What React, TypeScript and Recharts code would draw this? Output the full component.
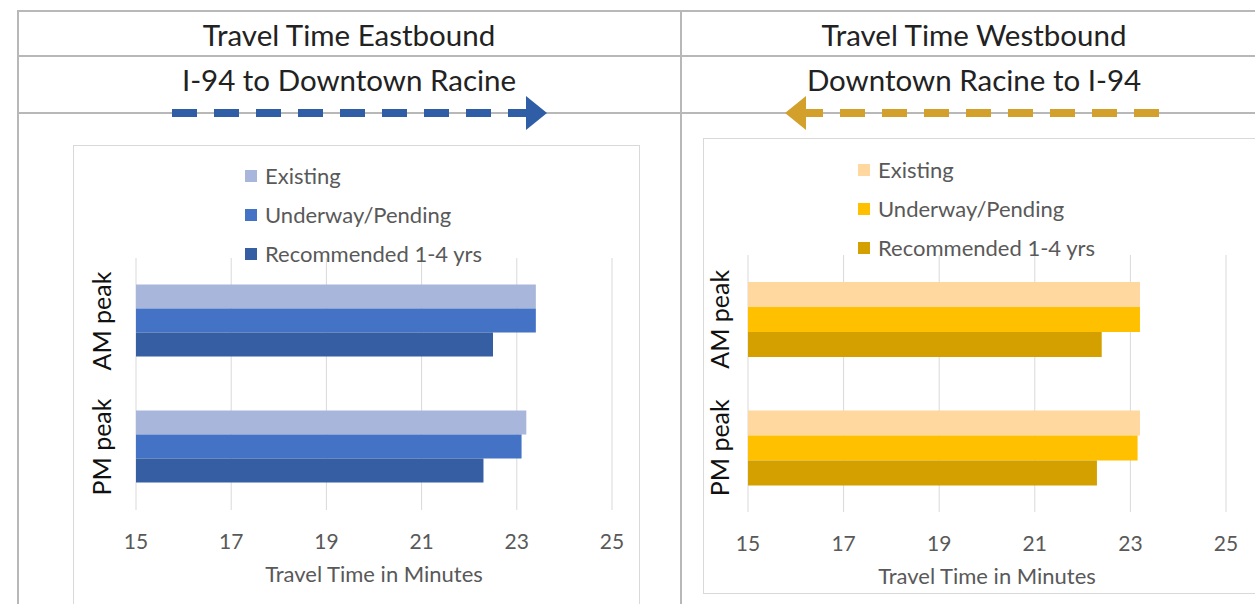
import React from "react";
import {
  BarChart,
  Bar,
  XAxis,
  YAxis,
  CartesianGrid,
  Legend,
} from "recharts";

const categories = ["AM peak", "PM peak"];
const seriesNames = ["Existing", "Underway/Pending", "Recommended 1-4 yrs"];
const eastExisting = [23.4, 23.2];
const eastUnderway = [23.4, 23.1];
const eastRecommended = [22.5, 22.3];
const westExisting = [23.2, 23.2];
const westUnderway = [23.2, 23.15];
const westRecommended = [22.4, 22.3];
const xTicks = [15, 17, 19, 21, 23, 25];

const FONT = "Lato, 'Open Sans', sans-serif";
const LINE = "#b8b8b8";

const EAST_COLORS = ["#a9b6db", "#4472c4", "#355ea3"];
const WEST_COLORS = ["#fed89e", "#ffc000", "#d4a000"];

function buildRows(a: number[], b: number[], c: number[]) {
  return categories.map((name, i) => ({
    name,
    [seriesNames[0]]: a[i],
    [seriesNames[1]]: b[i],
    [seriesNames[2]]: c[i],
  }));
}

const eastData = buildRows(eastExisting, eastUnderway, eastRecommended);
const westData = buildRows(westExisting, westUnderway, westRecommended);

function CategoryTick(props: any) {
  const { x, y, payload } = props;
  return (
    <text
      x={x}
      y={y}
      transform={`rotate(-90 ${x} ${y})`}
      textAnchor="middle"
      dominantBaseline="central"
      fontSize={25}
      fill="#111"
      fontFamily={FONT}
    >
      {payload.value}
    </text>
  );
}

function LegendList(props: any) {
  const items = [...(props.payload || [])].sort(
    (a: any, b: any) =>
      seriesNames.indexOf(a.value) - seriesNames.indexOf(b.value),
  );
  return (
    <div style={{ fontFamily: FONT }}>
      {items.map((it: any) => (
        <div
          key={it.value}
          style={{ display: "flex", alignItems: "center", height: 39 }}
        >
          <span
            style={{
              width: 12,
              height: 12,
              background: it.color,
              display: "inline-block",
              marginRight: 8,
            }}
          />
          <span style={{ fontSize: 22, color: "#595959" }}>{it.value}</span>
        </div>
      ))}
    </div>
  );
}

interface PanelProps {
  data: any[];
  colors: string[];
  width: number;
  height: number;
  margin: { top: number; right: number; bottom: number; left: number };
  yAxisWidth: number;
  yTickMargin: number;
  legendLeft: number;
  legendTop: number;
}

function Panel(p: PanelProps) {
  return (
    <BarChart
      width={p.width}
      height={p.height}
      data={p.data}
      layout="vertical"
      margin={p.margin}
      barCategoryGap="21%"
      barGap={0}
    >
      <CartesianGrid horizontal={false} stroke="#d9d9d9" />
      <XAxis
        type="number"
        domain={[15, 25]}
        ticks={xTicks}
        axisLine={false}
        tickLine={false}
        tickSize={0}
        tickMargin={24}
        height={50}
        tick={{ fontSize: 21, fill: "#595959", fontFamily: FONT }}
        label={{
          value: "Travel Time in Minutes",
          position: "bottom",
          offset: 6,
          fontSize: 22,
          fill: "#595959",
          fontFamily: FONT,
        }}
      />
      <YAxis
        type="category"
        dataKey="name"
        width={p.yAxisWidth}
        axisLine={false}
        tickLine={false}
        tickSize={0}
        tickMargin={p.yTickMargin}
        tick={<CategoryTick />}
      />
      <Legend
        layout="vertical"
        verticalAlign="middle"
        align="center"
        content={<LegendList />}
        wrapperStyle={{
          position: "absolute",
          top: p.legendTop,
          left: p.legendLeft,
          width: "auto",
          bottom: "auto",
        }}
      />
      {seriesNames.map((s, i) => (
        <Bar key={s} dataKey={s} fill={p.colors[i]} isAnimationActive={false} />
      ))}
    </BarChart>
  );
}

const abs = (s: React.CSSProperties): React.CSSProperties => ({
  position: "absolute",
  ...s,
});

function Header({ text, cx, cy }: { text: string; cx: number; cy: number }) {
  return (
    <div
      style={abs({
        left: cx,
        top: cy,
        transform: "translate(-50%, -50%)",
        whiteSpace: "nowrap",
        fontSize: 29.5,
        color: "#222",
        fontFamily: FONT,
      })}
    >
      {text}
    </div>
  );
}

export default function App() {
  return (
    <div
      style={abs({
        left: 0,
        top: 0,
        width: 1255,
        height: 604,
        overflow: "hidden",
        background: "#fff",
      })}
    >
      {/* table rules */}
      <div style={abs({ left: 17, top: 10, width: 1260, height: 2, background: LINE })} />
      <div style={abs({ left: 17, top: 55, width: 1260, height: 2, background: LINE })} />
      <div style={abs({ left: 17, top: 112, width: 1260, height: 2, background: LINE })} />
      <div style={abs({ left: 17, top: 10, width: 2, height: 600, background: LINE })} />
      <div style={abs({ left: 680, top: 10, width: 2, height: 600, background: LINE })} />

      <Header text="Travel Time Eastbound" cx={349} cy={34} />
      <Header text="I-94 to Downtown Racine" cx={349} cy={79} />
      <Header text="Travel Time Westbound" cx={974} cy={34} />
      <Header text="Downtown Racine to I-94" cx={974} cy={79} />

      {/* direction arrows */}
      <svg style={abs({ left: 0, top: 0 })} width={1255} height={604}>
        <line
          x1={172}
          y1={113}
          x2={526}
          y2={113}
          stroke="#2f5da6"
          strokeWidth={8}
          strokeDasharray="25 17"
        />
        <polygon points="526,96 547,113 526,130" fill="#2f5da6" />
        <line
          x1={1159}
          y1={113}
          x2={806}
          y2={113}
          stroke="#d4a02c"
          strokeWidth={8}
          strokeDasharray="25 17"
        />
        <polygon points="806,96 785,113 806,130" fill="#d4a02c" />
      </svg>

      {/* chart frames */}
      <div style={abs({ left: 73, top: 145, width: 567, height: 470, border: "1px solid #d9d9d9", boxSizing: "border-box" })} />
      <div style={abs({ left: 703, top: 138, width: 580, height: 456, border: "1px solid #d9d9d9", boxSizing: "border-box" })} />

      <div style={abs({ left: 73, top: 145 })}>
        <Panel
          data={eastData}
          colors={EAST_COLORS}
          width={567}
          height={459}
          margin={{ top: 113, right: 28, bottom: 44, left: 0 }}
          yAxisWidth={63}
          yTickMargin={35}
          legendLeft={172}
          legendTop={11}
        />
      </div>
      <div style={abs({ left: 703, top: 138 })}>
        <Panel
          data={westData}
          colors={WEST_COLORS}
          width={570}
          height={455}
          margin={{ top: 117, right: 47, bottom: 31, left: 0 }}
          yAxisWidth={45}
          yTickMargin={29}
          legendLeft={155}
          legendTop={12}
        />
      </div>
    </div>
  );
}
